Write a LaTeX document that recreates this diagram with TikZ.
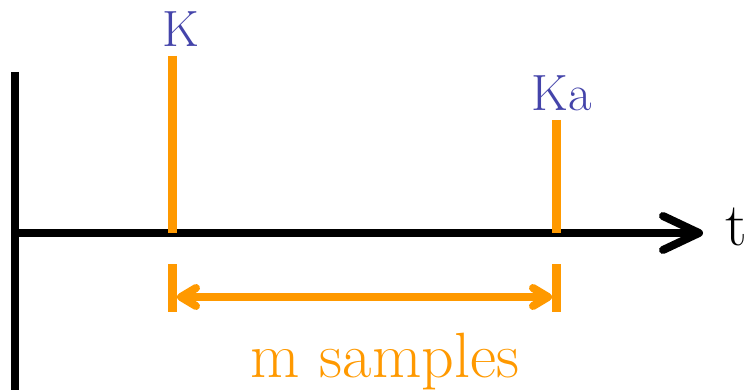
\documentclass[tikz,border=0pt]{standalone}
\usepackage{fontspec}
\usetikzlibrary{arrows.meta}
\definecolor{tickorange}{RGB}{255,153,0}
\definecolor{labelblue}{RGB}{68,68,170}
\tikzset{
  axisline/.style={line width=8pt, draw=black},
  marker/.style={line width=9pt, draw=tickorange},
  span/.style={line width=8pt, draw=tickorange,
    {Straight Barb[length=15pt, width=18pt, line cap=round, line join=round]}-{Straight Barb[length=15pt, width=18pt, line cap=round, line join=round]}},
  eventlabel/.style={text=labelblue, font=\fontsize{51}{58}\selectfont, inner sep=0pt, anchor=base},
  bigtext/.style={font=\fontsize{61}{70}\selectfont, inner sep=0pt},
  spantext/.style={font=\fontsize{64}{72}\selectfont, inner sep=0pt, text=tickorange},
}
\begin{document}
\begin{tikzpicture}[x=1pt, y=-1pt]
  \useasboundingbox (0,0) rectangle (747,390);
  % vertical reference line and time axis
  \coordinate (vtop) at (15,72);
  \coordinate (vbot) at (15,390);
  \coordinate (orig) at (11,233);
  \coordinate (tend) at (703,233);
  \draw[axisline] (vtop) -- (vbot);
  \draw[axisline, -{Straight Barb[length=36pt, width=34pt, line cap=round, line join=round]}] (orig) -- (tend);
  \node[bigtext, anchor=base west] (tlab) at (725,246) {t};
  % event markers
  \coordinate (kt) at (172.5,56);
  \coordinate (kb) at (172.5,233);
  \coordinate (kat) at (556.5,120);
  \coordinate (kab) at (556.5,233);
  \draw[marker] (kt) -- (kb);
  \draw[marker] (kat) -- (kab);
  \node[eventlabel] (klab) at (181,47) {K};
  \node[eventlabel] (kalab) at (561.5,111) {Ka};
  % span between the events
  \coordinate (l1) at (172.5,264);
  \coordinate (l2) at (172.5,312);
  \coordinate (r1) at (556.5,264);
  \coordinate (r2) at (556.5,312);
  \draw[marker] (l1) -- (l2);
  \draw[marker] (r1) -- (r2);
  \coordinate (sa) at (177,297);
  \coordinate (sb) at (552,297);
  \draw[span] (sa) -- (sb);
  \node[spantext, anchor=base] (mlab) at (385,377) {m samples};
\end{tikzpicture}
\end{document}
